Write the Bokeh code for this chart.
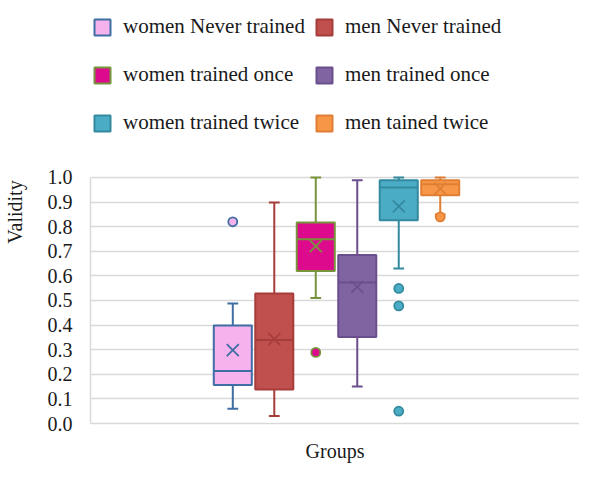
from bokeh.plotting import figure
from bokeh.models import Legend, LegendItem, Range1d, FixedTicker, NumeralTickFormatter
from bokeh.embed import file_html
from bokeh.resources import INLINE

# ---- data ----
groups = ["women Never trained", "men Never trained", "women trained once",
          "men trained once", "women trained twice", "men tained twice"]
positions = [-2.5, -1.5, -0.5, 0.5, 1.5, 2.5]
lower_whisker = [0.06, 0.03, 0.51, 0.15, 0.63, 0.85]
q1 = [0.156, 0.138, 0.62, 0.352, 0.826, 0.928]
median = [0.213, 0.339, 0.749, 0.573, 0.959, 0.973]
q3 = [0.398, 0.528, 0.817, 0.685, 0.989, 0.989]
upper_whisker = [0.488, 0.898, 1.0, 0.989, 1.0, 1.0]
means = [0.298, 0.343, 0.721, 0.555, 0.883, 0.955]
outliers = [[0.82], [], [0.289], [], [0.549, 0.478, 0.05], [0.84]]
fill_colors = ["#F5B2EC", "#C0504D", "#DE0A8D", "#8064A2", "#4BACC6", "#F79646"]
line_colors = ["#3E6EA3", "#A63D3A", "#77933C", "#6A4F8C", "#33899E", "#E07F33"]
y_ticks = [0.0, 0.1, 0.2, 0.3, 0.4, 0.5, 0.6, 0.7, 0.8, 0.9, 1.0]

FONT = "Liberation Serif"
TXT = "#1a1a1a"

p = figure(width=579, height=465, output_backend="svg", toolbar_location=None,
           x_range=Range1d(-5.93, 5.857), y_range=Range1d(0, 1.7195),
           min_border_left=84, min_border_right=0, min_border_top=0,
           min_border_bottom=42)
p.outline_line_color = None

p.xgrid.grid_line_color = None
p.ygrid.grid_line_color = "#D9D9D9"
p.ygrid.grid_line_width = 1.5
p.yaxis.ticker = FixedTicker(ticks=y_ticks)
p.yaxis.bounds = (0, 1)
p.yaxis.formatter = NumeralTickFormatter(format="0.0")
p.yaxis.axis_line_color = "#D9D9D9"
p.yaxis.axis_line_width = 1.5
p.yaxis.major_tick_line_color = None
p.yaxis.minor_tick_line_color = None
p.yaxis.major_tick_out = 0
p.yaxis.major_tick_in = 0
p.yaxis.major_label_standoff = 18
p.yaxis.major_label_text_font = FONT
p.yaxis.major_label_text_font_size = "20px"
p.yaxis.major_label_text_color = TXT
p.yaxis.axis_label = "Validity"
p.yaxis.axis_label_text_font = FONT
p.yaxis.axis_label_text_font_size = "20px"
p.yaxis.axis_label_text_font_style = "normal"
p.yaxis.axis_label_text_color = TXT
p.yaxis.axis_label_standoff = 19

p.xaxis.ticker = FixedTicker(ticks=[])
p.xaxis.axis_line_color = "#D9D9D9"
p.xaxis.axis_line_width = 1.5
p.xaxis.major_tick_line_color = None
p.xaxis.minor_tick_line_color = None
p.xaxis.major_tick_out = 0
p.xaxis.major_tick_in = 0
p.xaxis.major_label_standoff = 0
p.xaxis.axis_label = "Groups"
p.xaxis.axis_label_text_font = FONT
p.xaxis.axis_label_text_font_size = "20px"
p.xaxis.axis_label_text_font_style = "normal"
p.xaxis.axis_label_text_color = TXT
p.xaxis.axis_label_standoff = 16

box_w = 0.917
cap_hw = 0.13
items = []
for i, name in enumerate(groups):
    x = positions[i]
    lc = line_colors[i]
    p.segment(x0=[x, x], y0=[q3[i], q1[i]], x1=[x, x],
              y1=[upper_whisker[i], lower_whisker[i]], line_color=lc, line_width=2)
    p.segment(x0=[x - cap_hw, x - cap_hw], y0=[upper_whisker[i], lower_whisker[i]],
              x1=[x + cap_hw, x + cap_hw], y1=[upper_whisker[i], lower_whisker[i]],
              line_color=lc, line_width=2)
    r = p.vbar(x=[x], width=box_w, bottom=[q1[i]], top=[q3[i]],
               fill_color=fill_colors[i], line_color=lc, line_width=2)
    items.append(LegendItem(label=name, renderers=[r]))
    p.segment(x0=[x - box_w / 2], y0=[median[i]], x1=[x + box_w / 2], y1=[median[i]],
              line_color=lc, line_width=2)
    p.scatter(x=[x], y=[means[i]], marker="x", size=17, line_color=lc, line_width=1.8)
    if outliers[i]:
        p.scatter(x=[x] * len(outliers[i]), y=outliers[i], marker="circle", size=9,
                  fill_color=fill_colors[i], line_color=lc, line_width=1.8)

legend = Legend(items=items, location=(2, 281), orientation="horizontal", ncols=2,
                glyph_width=20, glyph_height=20, label_standoff=11,
                spacing=9, padding=0, margin=0,
                border_line_color=None, background_fill_alpha=0,
                label_text_font=FONT, label_text_font_size="21px",
                label_text_color=TXT, label_height=39)
p.add_layout(legend)

open("out.html", "w").write(file_html(p, INLINE))
